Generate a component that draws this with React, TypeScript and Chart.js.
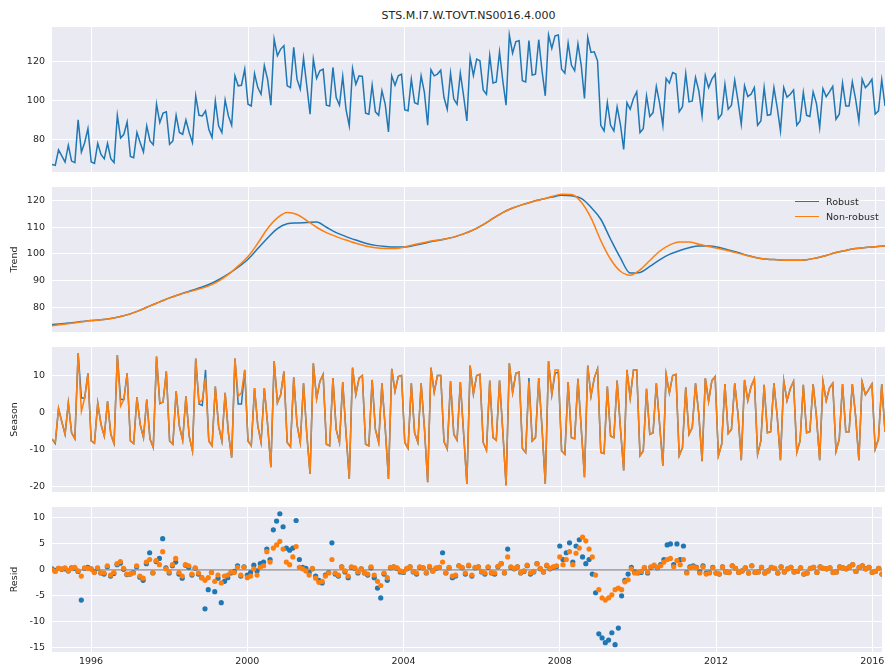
import { useEffect, useRef } from "react";
import { Chart, registerables } from "chart.js";

Chart.register(...registerables);

// Monthly series, January 1995 onwards
const START_YEAR = 1995;
const TITLE = "STS.M.I7.W.TOVT.NS0016.4.000";
const yearTicks = [1996, 2000, 2004, 2008, 2012, 2016];
const legendLabels = ["Robust", "Non-robust"];

const observed = [
  67.5, 67.0, 74.9, 71.8, 68.7, 77.3, 69.2, 68.4, 90.3, 73.8, 78.6, 85.8,
  68.7, 68.0, 78.3, 72.6, 70.4, 78.3, 70.4, 68.4, 92.6, 81.0, 82.9, 89.2,
  71.5, 70.9, 83.8, 78.6, 73.8, 87.2, 79.5, 77.6, 98.3, 88.9, 93.7, 94.4,
  77.8, 79.5, 92.6, 83.8, 82.9, 90.3, 83.8, 78.6, 102.6, 92.6, 92.3, 94.9,
  85.5, 81.2, 100.0, 87.2, 83.8, 100.5, 92.3, 87.5, 112.8, 107.7, 108.0, 116.2,
  98.3, 97.4, 114.0, 106.8, 103.4, 118.0, 111.0, 97.8, 131.6, 123.1, 126.5, 128.2,
  107.7, 106.8, 127.4, 111.1, 106.0, 121.9, 107.7, 93.2, 121.4, 111.5, 115.4, 116.2,
  97.8, 97.4, 117.1, 101.7, 97.8, 112.5, 95.7, 87.2, 116.6, 108.5, 112.8, 112.5,
  93.7, 93.2, 108.0, 94.4, 92.6, 105.1, 98.3, 84.1, 112.8, 108.0, 112.8, 113.7,
  95.4, 94.9, 111.1, 99.1, 98.3, 112.8, 104.3, 87.5, 115.9, 112.8, 113.7, 115.7,
  101.7, 95.7, 114.2, 100.9, 98.3, 114.2, 102.6, 89.7, 122.1, 113.0, 121.4, 120.5,
  105.6, 103.4, 123.1, 109.1, 109.7, 125.1, 110.3, 97.8, 133.7, 124.4, 130.3, 130.8,
  110.3, 109.7, 130.8, 113.2, 113.7, 131.3, 115.4, 102.6, 133.7, 126.8, 133.3, 133.7,
  116.2, 114.2, 129.6, 118.3, 115.4, 129.1, 118.3, 101.2, 132.5, 124.8, 125.1, 120.5,
  87.5, 84.6, 99.1, 87.5, 84.6, 96.9, 88.0, 75.2, 99.1, 95.7, 101.2, 104.6,
  83.8, 85.8, 102.6, 92.0, 94.0, 107.4, 98.8, 87.5, 111.5, 109.1, 114.5, 113.7,
  94.4, 97.0, 114.0, 99.5, 100.0, 112.0, 105.1, 92.3, 112.8, 106.8, 111.1, 113.7,
  90.9, 93.2, 108.5, 95.7, 97.8, 110.6, 100.0, 88.0, 107.7, 102.2, 103.4, 106.8,
  87.5, 89.7, 106.8, 92.6, 93.0, 106.8, 96.6, 84.6, 106.8, 101.9, 103.4, 105.6,
  87.5, 89.7, 104.3, 92.6, 92.0, 104.6, 98.8, 86.3, 106.3, 102.2, 104.6, 107.4,
  90.6, 93.2, 109.1, 97.4, 97.4, 109.7, 100.9, 89.7, 111.1, 106.8, 108.5, 111.1,
  93.2, 94.9, 110.8, 97.4,
];

// Trend sampled every third month (Jan, Apr, Jul, Oct)
const TREND_STEP = 3;
const trendRobust = [
  73.5, 73.8, 74.2, 74.6,
  75.0, 75.3, 75.8, 76.5,
  77.5, 78.9, 80.5, 82.0,
  83.5, 84.8, 86.0, 87.2,
  88.5, 90.3, 92.5, 95.0,
  98.0, 102.0, 106.0, 109.5,
  111.3, 111.6, 111.8, 112.0,
  110.0, 108.0, 106.5, 105.2,
  104.0, 103.2, 102.8, 102.6,
  102.6, 103.2, 104.0, 104.8,
  105.5, 106.3, 107.5, 109.0,
  111.0, 113.3, 115.5, 117.2,
  118.5, 119.6, 120.5, 121.3,
  122.0, 121.8, 120.8, 117.5,
  113.0, 105.5, 98.5, 92.8,
  93.0, 95.3, 97.8, 99.8,
  101.2, 102.3, 103.0, 103.0,
  102.5, 101.5, 100.5, 99.4,
  98.5, 98.0, 97.8, 97.6,
  97.6, 97.8, 98.5, 99.4,
  100.5, 101.3, 102.0, 102.4,
  102.7, 103.0,
];
const trendNonRobust = [
  73.0, 73.5, 74.0, 74.5,
  75.0, 75.3, 75.8, 76.5,
  77.5, 78.9, 80.5, 82.0,
  83.5, 84.8, 85.8, 86.8,
  88.0, 89.8, 92.3, 95.5,
  99.0, 104.0, 109.5, 113.5,
  115.5, 114.8, 112.5, 110.0,
  108.0, 106.5, 105.2, 104.0,
  103.0, 102.3, 102.0, 102.0,
  102.6, 103.5, 104.3, 105.0,
  105.5, 106.3, 107.5, 109.0,
  111.0, 113.3, 115.5, 117.2,
  118.5, 119.6, 120.5, 121.5,
  122.4, 122.3, 119.5, 113.5,
  105.0, 98.0, 93.5, 92.0,
  94.0, 97.5, 101.0, 103.3,
  104.5, 104.5, 103.6, 102.8,
  102.0, 101.2, 100.3, 99.3,
  98.5, 98.0, 97.8, 97.6,
  97.6, 97.8, 98.5, 99.4,
  100.5, 101.3, 102.0, 102.4,
  102.7, 103.0,
];

const seasonalRobust = [
  -7.1, -8.3, 1.2, -2.4, -5.8, 2.7, -5.4, -7.0, 16.1, 4.0, 4.0, 10.7,
  -7.6, -8.2, 2.7, -3.1, -6.3, 3.1, -5.8, -8.3, 15.6, 3.6, 3.6, 10.7,
  -7.6, -8.3, 4.2, -3.1, -6.7, 3.6, -7.1, -9.4, 15.2, 2.5, 2.9, 11.2,
  -7.6, -8.5, 5.8, -3.6, -7.4, 4.5, -6.3, -10.3, 14.7, 2.4, 2.0, 11.6,
  -7.6, -8.9, 7.1, -3.6, -7.6, 5.4, -5.4, -12.1, 14.7, 2.4, 2.4, 11.6,
  -7.6, -8.9, 6.7, -3.5, -8.0, 6.7, -3.1, -14.7, 14.0, 2.7, 4.9, 11.2,
  -8.0, -9.2, 9.6, -3.1, -8.0, 8.0, -5.8, -16.5, 13.4, 3.8, 8.5, 10.4,
  -8.5, -8.9, 9.4, -4.5, -8.0, 8.3, -5.4, -17.9, 12.2, 4.9, 9.4, 10.1,
  -8.5, -8.9, 8.9, -4.5, -8.0, 8.0, -4.0, -17.9, 11.9, 5.8, 9.8, 10.1,
  -8.0, -9.6, 8.0, -5.4, -8.0, 8.0, -4.0, -18.75, 12.2, 5.6, 10.1, 10.1,
  -7.8, -9.8, 8.5, -5.8, -7.4, 8.3, -5.5, -19.2, 12.8, 5.1, 10.1, 10.4,
  -8.0, -10.1, 8.7, -6.7, -7.4, 8.7, -5.0, -19.6, 13.4, 5.4, 10.7, 11.0,
  -9.6, -10.7, 9.4, -7.6, -6.7, 9.4, -4.0, -19.2, 14.0, 4.9, 10.7, 11.0,
  -10.3, -11.2, 8.3, -6.7, -7.0, 9.2, -4.0, -17.4, 12.8, 4.5, 9.4, 11.9,
  -10.7, -11.0, 7.1, -6.25, -6.7, 8.7, -4.0, -15.6, 11.6, 4.0, 11.6, 11.6,
  -11.6, -10.3, 6.5, -5.8, -5.4, 8.0, -3.1, -14.3, 10.4, 5.4, 10.1, 10.4,
  -11.6, -9.4, 6.9, -5.8, -4.0, 8.0, -0.4, -13.1, 9.4, 3.1, 8.7, 9.8,
  -11.6, -8.5, 7.8, -5.6, -4.5, 8.0, -0.4, -12.8, 8.9, 3.3, 7.1, 9.2,
  -11.2, -7.6, 7.6, -5.4, -5.1, 8.0, -0.9, -12.8, 8.7, 3.3, 6.5, 8.5,
  -10.7, -7.6, 7.6, -5.4, -5.1, 7.8, -0.9, -12.8, 8.5, 3.3, 6.7, 8.0,
  -10.4, -7.1, 7.8, -5.1, -5.1, 7.8, -0.9, -12.8, 8.3, 4.9, 6.25, 7.8,
  -9.8, -7.1, 7.8, -5.1,
];
const seasonalNonRobust = [
  -7.1, -8.0, 1.2, -2.4, -5.8, 2.7, -5.4, -7.0, 16.1, 0.4, 4.0, 10.7,
  -7.6, -8.2, 2.7, -3.1, -6.3, 3.1, -5.8, -8.3, 15.6, 1.8, 3.6, 10.7,
  -7.6, -8.3, 4.2, -3.1, -6.7, 3.6, -7.1, -9.4, 15.2, 2.7, 2.9, 11.2,
  -7.6, -8.5, 5.8, -3.6, -7.4, 4.5, -6.3, -10.3, 14.7, 2.7, 3.5, 9.5,
  -7.6, -8.9, 7.1, -3.6, -7.6, 5.4, -5.4, -12.1, 14.7, 4.5, 5.4, 11.6,
  -7.6, -8.9, 6.7, -3.5, -8.0, 6.7, -3.1, -14.7, 14.0, 2.7, 4.9, 11.2,
  -8.0, -9.2, 9.6, -3.1, -8.0, 8.0, -5.8, -16.5, 13.4, 3.8, 8.5, 10.4,
  -8.5, -8.9, 9.4, -4.5, -8.0, 8.3, -5.4, -17.9, 12.2, 4.9, 9.4, 10.1,
  -8.5, -8.9, 8.9, -4.5, -8.0, 8.0, -4.0, -17.9, 11.9, 5.8, 9.8, 10.1,
  -8.0, -9.6, 8.0, -5.4, -8.0, 8.0, -4.0, -18.75, 12.2, 5.6, 10.1, 10.1,
  -7.8, -9.8, 8.5, -5.8, -7.4, 8.3, -5.5, -19.2, 12.8, 5.1, 10.1, 10.4,
  -8.0, -10.1, 8.7, -6.7, -7.4, 8.7, -5.0, -19.6, 13.4, 5.4, 10.7, 11.0,
  -9.6, -10.7, 8.5, -7.6, -6.7, 9.4, -4.0, -19.2, 14.0, 4.9, 11.6, 11.6,
  -10.3, -11.2, 8.3, -6.7, -7.0, 9.2, -4.0, -17.4, 12.8, 4.5, 9.4, 11.9,
  -10.7, -11.0, 7.1, -6.25, -6.7, 8.7, -4.0, -15.6, 11.6, 4.0, 11.6, 11.6,
  -11.6, -10.3, 6.5, -5.8, -5.4, 8.0, -3.1, -14.3, 10.4, 5.4, 10.1, 10.4,
  -11.6, -9.4, 6.9, -5.8, -4.0, 8.0, -0.4, -13.1, 9.4, 3.1, 8.7, 9.8,
  -11.6, -8.5, 7.8, -5.6, -4.5, 8.0, -0.4, -12.8, 8.9, 3.3, 7.1, 9.2,
  -11.2, -7.6, 7.6, -5.4, -5.1, 8.0, -0.9, -12.8, 8.7, 3.3, 6.5, 8.5,
  -10.7, -7.6, 7.6, -5.4, -5.1, 7.8, -0.9, -12.8, 8.5, 3.3, 6.7, 8.0,
  -10.4, -7.1, 7.8, -5.1, -5.1, 7.8, -0.9, -12.8, 8.3, 4.9, 6.25, 7.8,
  -9.8, -7.1, 7.8, -5.1,
];

const residRobust = [
  0.2, -0.1, 0.3, 0.1, 0.2, -0.2, 0.4, 0.3, -0.3, -5.8, 0.3, 0.5,
  0.2, -0.4, 0.3, -0.6, -0.8, 0.6, -1.2, -0.7, 1.0, 1.3, 0.1, -0.9,
  -0.8, -0.5, 0.6, -1.4, -2.0, 1.2, 3.3, -0.6, 1.6, 2.2, 6.0, 0.4,
  -0.6, 0.8, 1.5, -0.8, -1.6, 0.9, 0.5, -1.0, 0.3, -0.8, -1.5, -7.5,
  -3.8, -0.5, -4.2, -1.6, -6.3, -2.2, -1.5, -0.6, -0.3, 0.8, -1.2, 0.6,
  -1.0, -0.5, 0.9, -0.2, 1.2, 1.5, 4.0, 2.0, 7.7, 9.4, 10.8, 8.3,
  4.2, 3.8, 4.2, 9.5, 2.0, 0.5, 0.3, -0.5, 0.2, -1.2, -2.0, -2.5,
  -1.0, -0.5, 5.2, -0.8, -1.2, 0.6, -0.4, -1.5, 0.5, 0.3, -0.6, 0.2,
  -0.6, -1.0, 0.4, -1.5, -3.5, -5.4, -0.8, -2.0, 0.4, 0.6, 0.3, -0.4,
  -0.5, 0.2, 0.6, -0.4, -0.8, 0.5, 0.4, -0.6, 0.6, -0.2, 0.3, 0.5,
  3.3, -0.6, 0.4, -1.5, -1.2, 0.8, 0.4, -0.8, 0.8, -1.2, 0.4, 0.6,
  -0.4, -0.8, 0.5, -0.6, -0.8, 0.6, 1.2, -0.6, 4.0, 0.5, 0.2, 0.6,
  -0.6, -0.3, 0.8, -0.8, -0.4, 1.2, 0.2, -0.4, 0.8, 0.2, 0.5, 0.6,
  4.6, 2.0, 3.3, 5.2, 1.5, 4.6, 5.8, 2.5, 1.2, 2.0, -0.8, -4.4,
  -12.3, -13.1, -14.0, -13.5, -12.1, -14.4, -11.2, -5.0, -2.0, -0.8, 0.5, -0.4,
  -0.6, -0.5, 0.4, -0.6, 0.5, 0.8, 0.4, 1.0, 2.0, 4.8, 5.0, 1.0,
  5.0, 2.0, 4.6, -0.5, 0.6, 0.8, 0.5, -0.4, 0.8, -0.6, -0.5, 0.5,
  -0.6, -0.8, 0.6, -0.4, -0.5, 0.8, 0.3, -0.5, -0.2, 0.4, -0.6, 0.8,
  -0.5, -0.4, 0.5, -0.6, -0.2, 0.5, 0.3, -0.6, 0.6, -0.4, 0.2, 0.5,
  -0.4, -0.3, 0.4, -0.8, -0.6, 0.3, 0.5, -0.5, 0.6, 0.3, 0.2, 0.4,
  -0.5, -0.4, 0.6, 0.4, 0.2, 0.6, 1.0, -0.3, 0.5, 0.8, 0.2, 0.5,
  -0.5, -0.3, 0.3, -0.8,
];
const residNonRobust = [
  0.0, -0.3, 0.3, 0.2, 0.4, -0.1, 0.3, 0.5, -0.2, -1.2, 0.4, 0.3,
  0.2, -0.5, 0.4, -0.5, -0.6, 0.8, -1.0, -0.5, 1.2, 1.6, 0.3, -0.8,
  -0.8, -0.6, 0.8, -1.2, -1.6, 1.5, 2.0, -0.5, 1.8, 1.0, 3.5, 0.2,
  -0.4, 1.0, 2.2, -0.5, -1.2, 1.0, 0.8, -0.8, 0.4, -0.6, -1.5, -2.0,
  -1.5, -0.5, -2.2, -1.0, -2.5, -1.2, -1.0, -0.4, -0.5, 0.5, -1.0, 0.5,
  -1.5, -1.2, 0.2, -1.0, 0.5, 0.8, 3.5, 1.5, 4.2, 4.8, 5.5, 4.0,
  1.5, 1.0, 2.5, 4.5, 0.5, 0.2, -0.2, -1.0, 0.3, -1.6, -2.4, -2.2,
  -1.2, -0.6, 2.0, -0.6, -1.0, 0.6, -0.2, -1.2, 0.6, 0.4, -0.4, 0.2,
  -0.5, -0.8, 0.6, -1.0, -2.2, -3.0, -0.6, -1.5, 0.5, 0.6, 0.4, -0.2,
  -0.4, 0.3, 0.6, -0.3, -0.6, 0.6, 0.4, -0.5, 0.7, -0.2, 0.4, 0.5,
  1.5, -0.5, 0.5, -1.2, -1.0, 0.8, 0.5, -0.6, 0.9, -1.0, 0.5, 0.6,
  -0.3, -0.6, 0.6, -0.5, -0.6, 0.7, 1.2, -0.5, 2.5, 0.6, 0.3, 0.6,
  -0.5, -0.2, 0.9, -0.6, -0.3, 1.2, 0.3, -0.4, 0.9, 0.3, 0.6, 0.8,
  2.5, 1.0, 2.0, 3.5, 1.0, 3.2, 4.2, 6.3, 5.6, 4.0, 2.5, -1.0,
  -3.8, -5.4, -5.8, -5.4, -4.8, -3.8, -3.5, -3.8, -2.3, -1.9, 0.2, -0.6,
  -0.5, -0.3, 0.5, -0.4, 0.6, 0.9, 0.5, 0.8, 1.5, 2.0, 2.2, 0.6,
  1.8, 1.0, 2.0, -0.6, 0.4, 0.6, 0.4, -0.6, 0.6, -0.8, -0.6, 0.4,
  -0.6, -0.8, 0.6, -0.4, -0.5, 0.8, 0.3, -0.5, -0.2, 0.4, -0.6, 0.8,
  -0.5, -0.4, 0.5, -0.6, -0.2, 0.5, 0.3, -0.6, 0.6, -0.4, 0.2, 0.5,
  -0.4, -0.3, 0.4, -0.8, -0.6, 0.3, 0.5, -0.5, 0.6, 0.3, 0.2, 0.4,
  -0.5, -0.4, 0.6, 0.4, 0.2, 0.6, 1.0, -0.3, 0.5, 0.8, 0.2, 0.5,
  -0.5, -0.3, 0.3, -0.8,
];

const BLUE = "#1f77b4";
const ORANGE = "#ff7f0e";
const FACE = "#eaeaf2";
const TEXT = "#262626";
const FONT = "'DejaVu Sans', sans-serif";

const X_MIN = START_YEAR;
const X_MAX = START_YEAR + (observed.length - 1) / 12;

const monthly = (vals: number[]) => vals.map((v, i) => ({ x: START_YEAR + i / 12, y: v }));
const stepped = (vals: number[], step: number) =>
  vals.map((v, i) => ({ x: START_YEAR + (i * step) / 12, y: v }));

const AREA_LEFT = 52;
const AREA_RIGHT = 885;
const PAD = 6;
const XLABEL_H = 16;

type Panel = {
  key: string;
  top: number;
  height: number;
  yMin: number;
  yMax: number;
  yTicks: number[];
  yTitle?: string;
  showX: boolean;
  datasets: any[];
};

const lineDs = (data: any[], color: string, order: number, smooth = false) => ({
  data,
  borderColor: color,
  backgroundColor: color,
  borderWidth: 1.5,
  pointRadius: 0,
  fill: false,
  order,
  cubicInterpolationMode: smooth ? "monotone" : "default",
  tension: 0,
});

const dotDs = (data: any[], color: string, order: number) => ({
  data,
  showLine: false,
  borderColor: color,
  backgroundColor: color,
  pointRadius: 2.6,
  pointBorderWidth: 0,
  order,
});

const panels: Panel[] = [
  {
    key: "obs",
    top: 27,
    height: 145,
    yMin: 63.6,
    yMax: 137.8,
    yTicks: [80, 100, 120],
    showX: false,
    datasets: [lineDs(monthly(observed), BLUE, 0)],
  },
  {
    key: "trend",
    top: 187,
    height: 145,
    yMin: 70.7,
    yMax: 125.1,
    yTicks: [80, 90, 100, 110, 120],
    yTitle: "Trend",
    showX: false,
    datasets: [
      lineDs(stepped(trendNonRobust, TREND_STEP), ORANGE, 0, true),
      lineDs(stepped(trendRobust, TREND_STEP), BLUE, 1, true),
    ],
  },
  {
    key: "season",
    top: 347,
    height: 145,
    yMin: -21.4,
    yMax: 17.8,
    yTicks: [-20, -10, 0, 10],
    yTitle: "Season",
    showX: false,
    datasets: [
      lineDs(monthly(seasonalNonRobust), ORANGE, 0),
      lineDs(monthly(seasonalRobust), BLUE, 1),
    ],
  },
  {
    key: "resid",
    top: 507,
    height: 145,
    yMin: -15.8,
    yMax: 12.1,
    yTicks: [-15, -10, -5, 0, 5, 10],
    yTitle: "Resid",
    showX: true,
    datasets: [
      dotDs(monthly(residNonRobust), ORANGE, 0),
      dotDs(monthly(residRobust), BLUE, 1),
      {
        ...lineDs(
          [
            { x: X_MIN, y: 0 },
            { x: X_MAX, y: 0 },
          ],
          "rgba(0,0,0,0.55)",
          2
        ),
        borderWidth: 1,
      },
    ],
  },
];

const facePlugin = {
  id: "face",
  beforeDraw(chart: any) {
    const { ctx, chartArea } = chart;
    ctx.save();
    ctx.fillStyle = FACE;
    ctx.fillRect(chartArea.left, chartArea.top, chartArea.width, chartArea.height);
    ctx.restore();
  },
};

function PanelChart({ panel }: { panel: Panel }) {
  const ref = useRef<HTMLCanvasElement>(null);
  useEffect(() => {
    if (!ref.current) return;
    const chart = new Chart(ref.current, {
      type: "line",
      data: { datasets: panel.datasets },
      plugins: [facePlugin],
      options: {
        animation: false,
        responsive: false,
        maintainAspectRatio: false,
        devicePixelRatio: 1,
        events: [],
        layout: {
          padding: { top: PAD, bottom: panel.showX ? 0 : PAD, left: 0, right: 886 - AREA_RIGHT },
        },
        plugins: { legend: { display: false }, tooltip: { enabled: false }, title: { display: false } },
        scales: {
          x: {
            type: "linear",
            min: X_MIN,
            max: X_MAX,
            afterBuildTicks: (s: any) => {
              s.ticks = yearTicks.map((v) => ({ value: v }));
            },
            afterFit: (s: any) => {
              s.height = panel.showX ? XLABEL_H : 0;
              s.paddingLeft = 0;
              s.paddingRight = 0;
            },
            grid: { color: "#ffffff", lineWidth: 1, drawTicks: false },
            border: { display: false },
            ticks: {
              display: panel.showX,
              padding: 4,
              color: TEXT,
              font: { family: FONT, size: 9.5 },
              maxRotation: 0,
              autoSkip: false,
              callback: (v: any) => String(v),
            },
          },
          y: {
            type: "linear",
            min: panel.yMin,
            max: panel.yMax,
            afterBuildTicks: (s: any) => {
              s.ticks = panel.yTicks.map((v) => ({ value: v }));
            },
            afterFit: (s: any) => {
              s.width = AREA_LEFT;
              s.paddingTop = 0;
              s.paddingBottom = 0;
            },
            grid: { color: "#ffffff", lineWidth: 1, drawTicks: false },
            border: { display: false },
            ticks: {
              padding: 7,
              color: TEXT,
              font: { family: FONT, size: 9.5 },
              callback: (v: any) => String(v),
            },
            title: {
              display: !!panel.yTitle,
              text: panel.yTitle || "",
              color: TEXT,
              font: { family: FONT, size: 9.5 },
              padding: { top: 9, bottom: 0 },
            },
          },
        },
      } as any,
    });
    return () => chart.destroy();
  }, [panel]);

  const canvasHeight = panel.height + PAD + (panel.showX ? XLABEL_H : PAD);
  return (
    <canvas
      ref={ref}
      width={886}
      height={canvasHeight}
      style={{ position: "absolute", left: 0, top: panel.top - PAD, width: 886, height: canvasHeight }}
    />
  );
}

function Legend() {
  const rows = [
    { label: legendLabels[0], color: BLUE },
    { label: legendLabels[1], color: ORANGE },
  ];
  return (
    <div style={{ position: "absolute", left: 795, top: 194 }}>
      {rows.map((r) => (
        <div key={r.label} style={{ display: "flex", alignItems: "center", height: 15 }}>
          <span style={{ display: "inline-block", width: 24, height: 1.5, background: r.color, marginRight: 7 }} />
          <span style={{ fontFamily: FONT, fontSize: 9.5, color: TEXT }}>{r.label}</span>
        </div>
      ))}
    </div>
  );
}

export default function App() {
  return (
    <div style={{ position: "absolute", left: 0, top: 0, width: 886, height: 666, background: "#ffffff", overflow: "hidden" }}>
      <div
        style={{
          position: "absolute",
          left: AREA_LEFT,
          width: AREA_RIGHT - AREA_LEFT,
          top: 8,
          textAlign: "center",
          fontFamily: FONT,
          fontSize: 11,
          color: TEXT,
          lineHeight: "16px",
        }}
      >
        {TITLE}
      </div>
      {panels.map((p) => (
        <PanelChart key={p.key} panel={p} />
      ))}
      <Legend />
    </div>
  );
}
